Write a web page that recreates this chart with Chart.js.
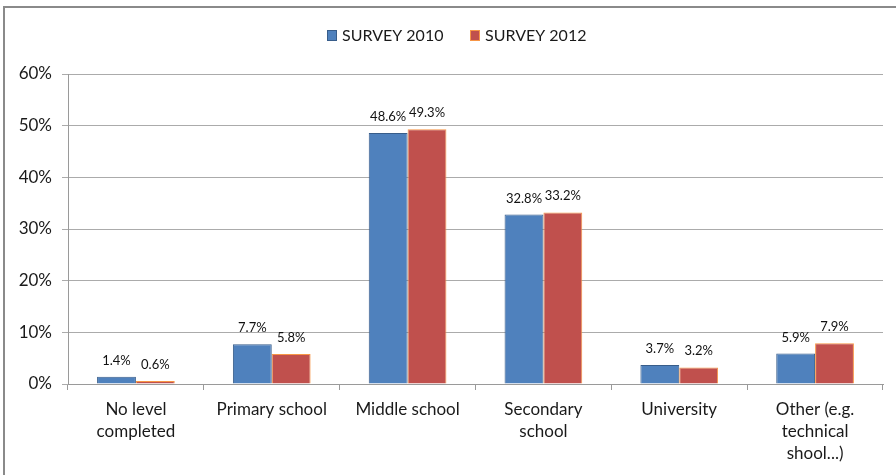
<!DOCTYPE html>
<html>
<head>
<meta charset="utf-8">
<script src="https://cdn.jsdelivr.net/npm/chart.js@4.4.0/dist/chart.umd.min.js"></script>
<style>
  html, body { margin: 0; padding: 0; background: #fff; }
  #wrap { position: relative; width: 896px; height: 475px; }
</style>
</head>
<body>
<div id="wrap"><canvas id="myChart" width="896" height="475"></canvas></div>
<script>
const categories = [
  ['No level', 'completed'],
  'Primary school',
  'Middle school',
  ['Secondary', 'school'],
  'University',
  ['Other (e.g.', 'technical', 'shool...)']
];
const survey2010 = [1.4, 7.7, 48.6, 32.8, 3.7, 5.9];
const survey2012 = [0.6, 5.8, 49.3, 33.2, 3.2, 7.9];
const yTicks = [0, 10, 20, 30, 40, 50, 60];

const FONT = 'Lato, "Liberation Sans", sans-serif';

// frame around the whole chart + legend at the top
const framePlugin = {
  id: 'frame',
  beforeDraw(chart) {
    const c = chart.ctx;
    c.save();
    c.strokeStyle = '#8a8a8a';
    c.lineWidth = 2;
    c.beginPath();
    c.moveTo(4, 480);
    c.lineTo(4, 7);
    c.lineTo(900, 7);
    c.stroke();
    c.restore();
  },
  afterDraw(chart) {
    const c = chart.ctx;
    const items = [
      { x: 327, text: 'SURVEY 2010', fill: '#4F81BD', edge: '#385D8A' },
      { x: 470, text: 'SURVEY 2012', fill: '#C0504D', edge: '#F79646' }
    ];
    c.save();
    c.font = '16px ' + FONT;
    c.textBaseline = 'middle';
    items.forEach(it => {
      c.fillStyle = it.fill;
      c.fillRect(it.x, 30, 10, 11);
      c.strokeStyle = it.edge;
      c.lineWidth = 1;
      c.strokeRect(it.x + 0.5, 30.5, 9, 10);
      c.fillStyle = '#1a1a1a';
      c.fillText(it.text, it.x + 15, 36);
    });
    c.restore();
  }
};

// percentage labels over each bar
const valueLabels = {
  id: 'valueLabels',
  afterDatasetsDraw(chart) {
    const c = chart.ctx;
    c.save();
    c.font = '13px ' + FONT;
    c.fillStyle = '#111';
    c.textAlign = 'center';
    c.textBaseline = 'alphabetic';
    chart.data.datasets.forEach((ds, i) => {
      chart.getDatasetMeta(i).data.forEach((bar, j) => {
        c.fillText(ds.data[j].toFixed(1) + '%', bar.x, bar.y - 12);
      });
    });
    c.restore();
  }
};

new Chart(document.getElementById('myChart').getContext('2d'), {
  type: 'bar',
  data: {
    labels: categories,
    datasets: [{
      label: 'SURVEY 2010',
      data: survey2010,
      backgroundColor: '#4F81BD',
      borderColor: '#385D8A',
      borderWidth: 1,
      categoryPercentage: 0.572,
      barPercentage: 1
    }, {
      label: 'SURVEY 2012',
      data: survey2012,
      backgroundColor: '#C0504D',
      borderColor: '#F79646',
      borderWidth: 1,
      categoryPercentage: 0.572,
      barPercentage: 1
    }]
  },
  options: {
    responsive: false,
    animation: false,
    layout: { padding: { left: 0, right: 13, top: 74, bottom: 0 } },
    plugins: {
      legend: { display: false },
      tooltip: { enabled: false }
    },
    scales: {
      x: {
        grid: {
          offset: true,
          drawOnChartArea: false,
          tickLength: 6,
          color: '#9a9a9a'
        },
        border: { color: '#9a9a9a' },
        ticks: {
          color: '#1a1a1a',
          font: { family: FONT, size: 17, lineHeight: 1.3 },
          padding: 8,
          maxRotation: 0,
          autoSkip: false
        },
        afterFit(scale) { scale.height = 91; }
      },
      y: {
        min: 0,
        max: 60,
        afterBuildTicks(scale) { scale.ticks = yTicks.map(v => ({ value: v })); },
        grid: { color: '#ababab', tickLength: 6 },
        border: { color: '#9a9a9a' },
        ticks: {
          color: '#1a1a1a',
          font: { family: FONT, size: 17 },
          padding: 10,
          callback: v => v + '%'
        },
        afterFit(scale) { scale.width = 68; }
      }
    }
  },
  plugins: [framePlugin, valueLabels]
});
</script>
</body>
</html>
